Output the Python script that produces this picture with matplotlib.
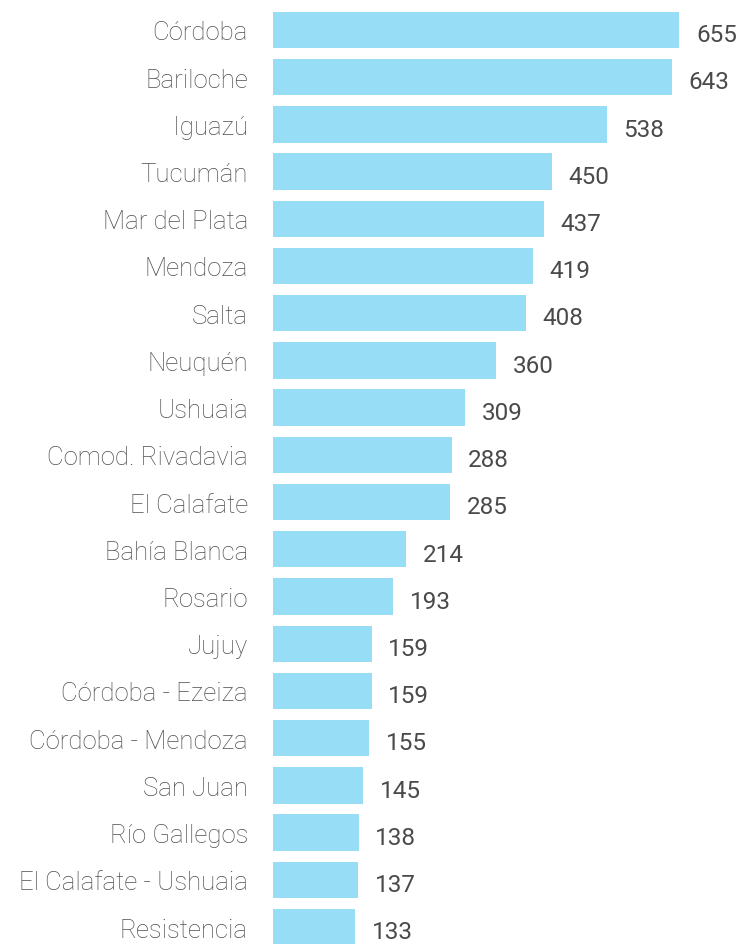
import matplotlib
matplotlib.use("Agg")
import matplotlib.pyplot as plt

# %% Data
routes = [
    "Córdoba", "Bariloche", "Iguazú", "Tucumán", "Mar del Plata", "Mendoza",
    "Salta", "Neuquén", "Ushuaia", "Comod. Rivadavia", "El Calafate",
    "Bahía Blanca", "Rosario", "Jujuy", "Córdoba - Ezeiza", "Córdoba - Mendoza",
    "San Juan", "Río Gallegos", "El Calafate - Ushuaia", "Resistencia",
]
values = [655, 643, 538, 450, 437, 419, 408, 360, 309, 288, 285,
          214, 193, 159, 159, 155, 145, 138, 137, 133]

BAR_COLOUR = "#96DDF5"
LABEL_COLOUR = "#4f4f4f"
VALUE_COLOUR = "#4a4a4a"

# %% Plot
fig = plt.figure(figsize=(7.4, 9.45), dpi=100)
ax = fig.add_axes([273 / 740, 0.0, 1 - 273 / 740, 1.0])

pos = list(range(len(routes)))
ax.barh(pos, values, height=0.77, color=BAR_COLOUR)
ax.set_ylim(19.36, -0.655)
ax.set_xlim(0, 753)

ax.set_yticks(pos)
ax.set_yticklabels(routes, fontsize=18.5, color=LABEL_COLOUR,
                   family="Roboto", fontweight="light")
ax.tick_params(axis="y", length=0, pad=18)
ax.set_xticks([])
for s in ax.spines.values():
    s.set_visible(False)

for p, v in zip(pos, values):
    ax.text(v + 27, p + 0.1, str(v), va="center", ha="left",
            fontsize=17.5, color=VALUE_COLOUR, family="Roboto")

fig.savefig("out.png", dpi=100)
